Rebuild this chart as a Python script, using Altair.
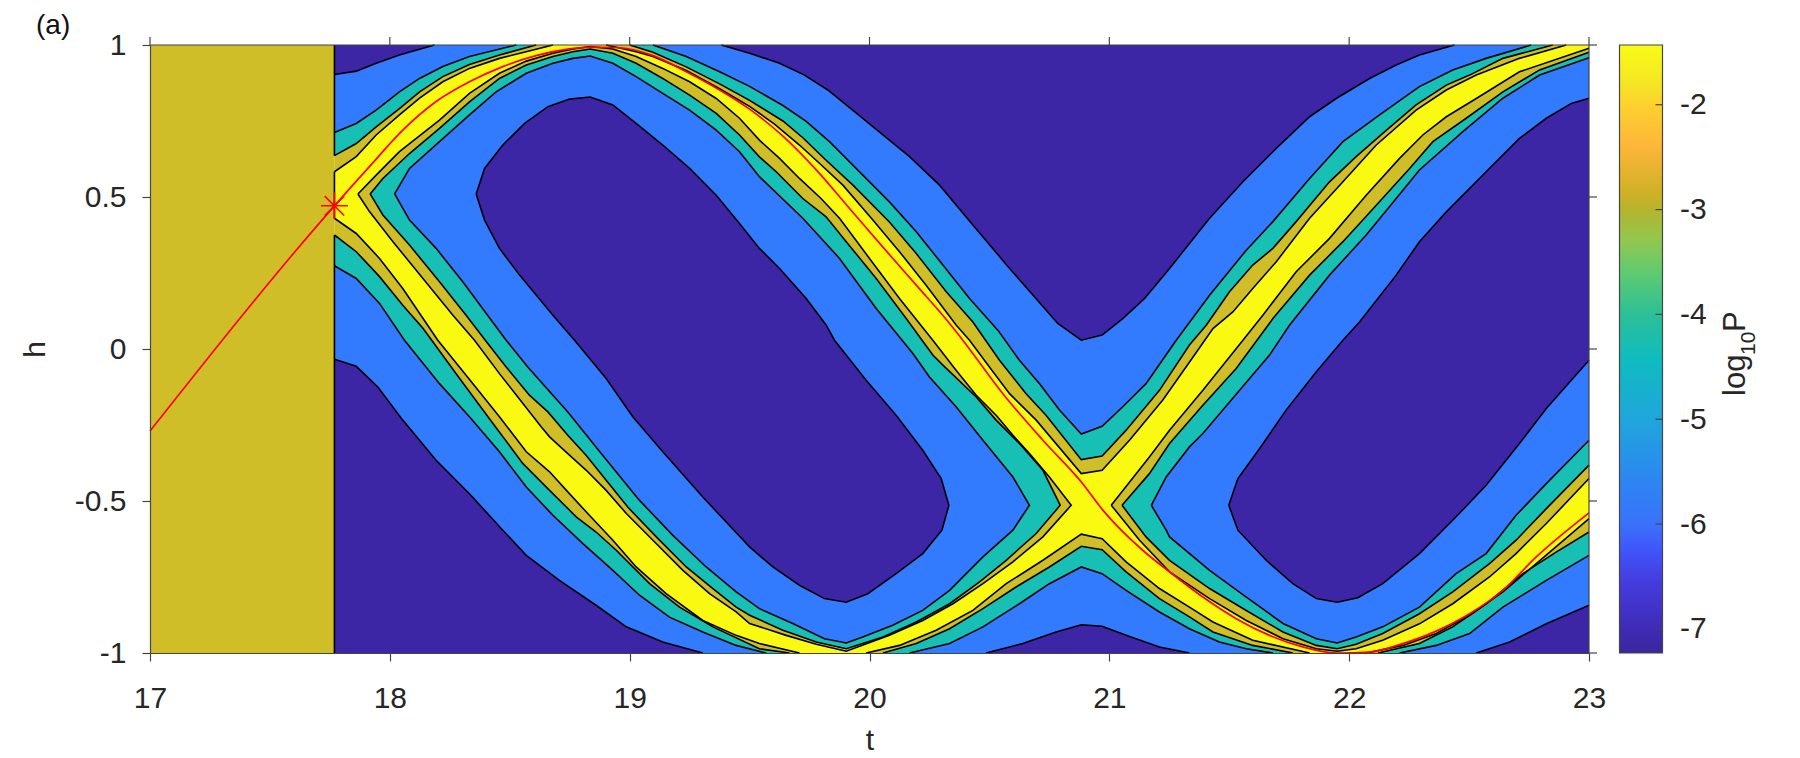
import altair as alt
import pandas as pd

T0, T1, CUT = 17, 23, 17.769

# contour curves: (t, h); level 1 = dark/blue, 2 = blue/teal, 3 = teal/olive, 4 = olive/yellow
a1 = [(17.769,.903),(17.860,.914),(17.943,.940),(18.040,.967),(18.186,1)]
a2 = [(17.769,.712),(17.860,.742),(17.943,.786),(18.040,.846),(18.124,.890),(18.221,.929),(18.332,.962),(18.527,1)]
a3 = [(17.769,.636),(17.860,.676),(17.943,.731),(18.040,.791),(18.124,.846),(18.221,.896),(18.332,.936),(18.457,.967),(18.610,1)]
a4 = [(17.769,.583),(17.860,.633),(17.943,.704),(18.040,.770),(18.124,.825),(18.221,.879),(18.332,.923),(18.457,.956),(18.568,.978),(18.680,1)]

b1 = [(18.360,.510),(18.395,.594),(18.471,.671),(18.562,.742),(18.659,.797),(18.749,.822),(18.835,.829),(18.930,.803),
      (19.027,.742),(19.138,.671),(19.250,.594),(19.361,.506),(19.458,.413),(19.541,.331),(19.625,.265),(19.736,.166),
      (19.819,.079),(19.854,.029),(19.986,-.103),(20.111,-.218),(20.222,-.333),(20.299,-.426),(20.331,-.514),(20.302,-.596),
      (20.222,-.673),(20.111,-.739),(19.993,-.805),(19.903,-.833),(19.812,-.821),(19.708,-.777),(19.597,-.717),(19.500,-.651),
      (19.305,-.487),(19.138,-.338),(19.013,-.223),(18.902,-.097),(18.770,.029),(18.680,.111),(18.541,.243),(18.457,.331),(18.395,.424)]
b2 = [(18.020,.510),(18.082,.594),(18.207,.682),(18.332,.770),(18.443,.846),(18.569,.907),(18.680,.940),(18.763,.956),(18.835,.964),
      (18.930,.940),(19.027,.896),(19.138,.841),(19.250,.786),(19.361,.720),(19.458,.649),(19.541,.567),(19.722,.430),(19.875,.298),
      (20.028,.133),(20.181,-.015),(20.250,-.092),(20.361,-.190),(20.473,-.300),(20.598,-.421),(20.667,-.514),(20.598,-.596),
      (20.473,-.684),(20.334,-.794),(20.222,-.860),(20.097,-.909),(19.972,-.947),(19.903,-.967),(19.812,-.953),(19.680,-.903),
      (19.541,-.854),(19.444,-.799),(19.319,-.717),(19.180,-.613),(19.041,-.498),(18.888,-.350),(18.742,-.207),(18.575,-.059),
      (18.485,.029),(18.402,.117),(18.304,.221),(18.193,.331),(18.082,.424)]
b3 = [(17.918,.510),(17.971,.561),(18.082,.643),(18.207,.726),(18.332,.813),(18.457,.890),(18.569,.934),(18.680,.962),(18.763,.978),
      (18.835,.987),(18.930,.973),(19.027,.940),(19.138,.890),(19.250,.835),(19.361,.775),(19.458,.704),(19.541,.632),(19.611,.583),
      (19.722,.495),(19.819,.435),(19.903,.353),(20.028,.232),(20.153,.100),(20.264,-.020),(20.306,-.053),(20.445,-.158),(20.528,-.234),
      (20.625,-.311),(20.723,-.399),(20.795,-.514),(20.695,-.607),(20.570,-.695),(20.459,-.766),(20.334,-.838),(20.195,-.898),
      (20.056,-.947),(19.903,-.986),(19.778,-.964),(19.639,-.925),(19.500,-.876),(19.444,-.849),(19.347,-.788),(19.236,-.717),
      (19.111,-.618),(18.992,-.520),(18.902,-.432),(18.819,-.350),(18.742,-.284),(18.659,-.207),(18.582,-.152),(18.485,-.059),
      (18.398,.029),(18.318,.111),(18.207,.221),(18.082,.342),(17.971,.441)]
b4 = [(17.867,.510),(17.943,.572),(18.040,.649),(18.207,.753),(18.332,.841),(18.457,.907),(18.569,.947),(18.680,.973),(18.763,.987),
      (18.835,.995),(18.930,.987),(19.027,.962),(19.138,.923),(19.250,.879),(19.361,.824),(19.458,.759),(19.541,.687),(19.625,.627),
      (19.708,.561),(19.798,.495),(19.875,.430),(20.000,.298),(20.125,.166),(20.264,.029),(20.361,-.070),(20.445,-.152),(20.528,-.218),
      (20.598,-.284),(20.667,-.344),(20.750,-.421),(20.841,-.514),(20.723,-.618),(20.598,-.700),(20.473,-.772),(20.348,-.838),
      (20.222,-.893),(20.083,-.942),(19.903,-.994),(19.778,-.971),(19.653,-.942),(19.500,-.903),(19.444,-.865),(19.333,-.805),
      (19.222,-.728),(19.097,-.629),(18.986,-.541),(18.902,-.465),(18.819,-.399),(18.742,-.344),(18.666,-.289),(18.631,-.256),
      (18.555,-.179),(18.457,-.081),(18.353,.029),(18.263,.111),(18.138,.232),(18.013,.353),(17.915,.452)]

c1 = [(19.382,1),(19.500,.973),(19.625,.940),(19.729,.901),(19.826,.852),(19.972,.759),(20.167,.633),(20.292,.539),(20.431,.408),
      (20.584,.265),(20.785,.084),(20.883,.029),(20.970,.046),(21.056,.100),(21.147,.166),(21.251,.265),(21.418,.430),(21.557,.550),
      (21.696,.660),(21.835,.764),(21.946,.824),(22.085,.890),(22.196,.934),(22.293,.967),(22.439,1)]
c2 = [(19.097,1),(19.236,.962),(19.375,.912),(19.500,.864),(19.639,.801),(19.736,.749),(19.833,.682),(19.972,.572),(20.083,.484),
      (20.195,.386),(20.306,.276),(20.417,.166),(20.535,.062),(20.625,-.037),(20.709,-.114),(20.792,-.201),(20.883,-.280),(20.970,-.254),
      (21.056,-.190),(21.153,-.114),(21.279,.029),(21.418,.177),(21.571,.325),(21.682,.419),(21.835,.561),(21.974,.682),(22.127,.770),
      (22.293,.863),(22.432,.918),(22.571,.956),(22.759,1)]
c3 = [(19.000,1),(19.097,.976),(19.236,.928),(19.375,.872),(19.500,.818),(19.639,.750),(19.722,.695),(19.819,.621),(19.931,.539),
      (20.083,.418),(20.195,.314),(20.320,.188),(20.431,.089),(20.542,-.037),(20.653,-.147),(20.736,-.218),(20.883,-.364),(20.970,-.352),
      (21.070,-.267),(21.209,-.136),(21.334,.013),(21.404,.078),(21.501,.188),(21.598,.276),(21.682,.331),(21.779,.419),(21.918,.550),
      (22.029,.633),(22.140,.709),(22.279,.803),(22.405,.868),(22.502,.901),(22.641,.956),(22.849,1)]
c4 = [(18.902,1),(19.027,.978),(19.097,.962),(19.236,.916),(19.375,.856),(19.500,.798),(19.604,.740),(19.708,.671),(19.791,.611),
      (19.889,.539),(20.014,.424),(20.125,.320),(20.236,.210),(20.361,.079),(20.417,.029),(20.500,-.059),(20.584,-.147),(20.695,-.234),
      (20.883,-.410),(20.970,-.399),(21.084,-.300),(21.223,-.168),(21.355,-.020),(21.432,.067),(21.515,.122),(21.598,.199),(21.696,.287),
      (21.835,.430),(21.974,.550),(22.113,.671),(22.279,.786),(22.405,.852),(22.530,.901),(22.710,.956),(22.905,1)]

d1 = [(21.498,-.514),(21.536,-.426),(21.626,-.328),(21.737,-.201),(21.863,-.075),(21.974,.029),(22.043,.089),(22.196,.243),(22.293,.353),
      (22.405,.451),(22.571,.583),(22.710,.693),(22.822,.759),(22.926,.808),(23,.825)]
d1b = [(23,-.037),(22.822,-.196),(22.710,-.311),(22.571,-.448),(22.446,-.552),(22.293,-.673),(22.140,-.772),(22.036,-.818),(21.950,-.833),
       (21.863,-.821),(21.765,-.772),(21.654,-.695),(21.536,-.596),(21.498,-.514)]
d2 = [(21.175,-.514),(21.237,-.421),(21.334,-.322),(21.390,-.278),(21.543,-.136),(21.668,-.020),(21.751,.078),(21.918,.243),(22.071,.375),
      (22.196,.495),(22.293,.589),(22.474,.715),(22.641,.825),(22.794,.901),(23,.958)]
d2b = [(23,-.300),(22.822,-.443),(22.696,-.547),(22.571,-.673),(22.446,-.739),(22.293,-.849),(22.140,-.914),(22.029,-.947),(21.950,-.967),
       (21.863,-.953),(21.724,-.903),(21.571,-.816),(21.418,-.728),(21.251,-.618),(21.237,-.596),(21.175,-.514)]
d3 = [(21.053,-.514),(21.167,-.410),(21.251,-.311),(21.390,-.185),(21.529,-.064),(21.682,.100),(21.835,.243),(21.974,.353),(22.113,.473),
      (22.252,.594),(22.349,.682),(22.488,.759),(22.641,.846),(22.794,.918),(23,.976)]
d3b = [(23,-.382),(22.822,-.525),(22.696,-.629),(22.585,-.706),(22.432,-.799),(22.293,-.871),(22.140,-.936),(22.029,-.971),(21.950,-.986),
       (21.863,-.975),(21.724,-.931),(21.571,-.860),(21.418,-.788),(21.251,-.695),(21.153,-.618),(21.053,-.514)]
d4 = [(21.008,-.514),(21.167,-.355),(21.251,-.267),(21.390,-.136),(21.557,.029),(21.640,.111),(21.779,.254),(21.918,.364),(22.071,.506),
      (22.210,.627),(22.307,.704),(22.405,.764),(22.530,.824),(22.710,.912),(23,.989)]
d4b = [(23,-.426),(22.822,-.574),(22.696,-.673),(22.585,-.750),(22.432,-.838),(22.293,-.904),(22.140,-.958),(22.029,-.986),(21.950,-.994),
       (21.863,-.986),(21.724,-.953),(21.571,-.893),(21.418,-.821),(21.251,-.733),(21.126,-.629),(21.008,-.514)]

e1 = [(17.769,-.034),(17.860,-.057),(17.950,-.125),(18.054,-.234),(18.193,-.366),(18.332,-.476),(18.471,-.596),(18.569,-.679),(18.707,-.761),
      (18.860,-.843),(18.986,-.914),(19.138,-.964),(19.305,-1)]
e2 = [(17.769,.274),(17.860,.232),(17.957,.150),(18.061,.029),(18.207,-.114),(18.332,-.223),(18.457,-.338),(18.569,-.454),(18.680,-.547),
      (18.805,-.640),(18.930,-.728),(19.041,-.810),(19.166,-.882),(19.305,-.931),(19.444,-.975),(19.569,-1)]
e3 = [(17.769,.375),(17.860,.320),(17.957,.238),(18.054,.144),(18.138,.068),(18.291,-.097),(18.430,-.245),(18.555,-.377),(18.666,-.465),
      (18.777,-.552),(18.860,-.602),(18.944,-.662),(19.083,-.772),(19.208,-.849),(19.347,-.914),(19.541,-.986),(19.666,-1)]
e4 = [(17.769,.430),(17.860,.380),(17.957,.298),(18.054,.199),(18.200,.029),(18.318,-.086),(18.457,-.223),(18.569,-.338),(18.666,-.404),
      (18.742,-.470),(18.832,-.547),(18.930,-.629),(19.027,-.717),(19.152,-.805),(19.305,-.893),(19.444,-.942),(19.541,-.969),(19.708,-1)]

f1 = [(20.486,-1),(20.639,-.969),(20.778,-.931),(20.883,-.907),(20.970,-.912),(21.070,-.942),(21.209,-.980),(21.334,-1)]
f2 = [(20.167,-1),(20.334,-.969),(20.473,-.914),(20.625,-.838),(20.750,-.772),(20.883,-.717),(20.970,-.739),(21.070,-.794),(21.209,-.865),
      (21.334,-.920),(21.459,-.964),(21.571,-.986),(21.682,-1)]
f3 = [(20.056,-1),(20.195,-.969),(20.334,-.920),(20.473,-.854),(20.611,-.783),(20.750,-.717),(20.883,-.649),(20.970,-.660),(21.070,-.733),
      (21.209,-.821),(21.334,-.881),(21.432,-.931),(21.598,-.975),(21.765,-1)]
f4 = [(19.986,-1),(20.125,-.975),(20.278,-.925),(20.431,-.860),(20.570,-.772),(20.723,-.695),(20.883,-.609),(20.970,-.624),(21.070,-.700),
      (21.209,-.788),(21.334,-.849),(21.432,-.898),(21.598,-.958),(21.835,-1)]

g1 = [(22.530,-1),(22.669,-.964),(22.822,-.904),(23,-.843)]
g2 = [(22.210,-1),(22.363,-.975),(22.502,-.936),(22.641,-.849),(22.822,-.761),(23,-.679)]
g3 = [(22.120,-1),(22.293,-.969),(22.432,-.914),(22.571,-.838),(22.724,-.739),(22.863,-.668),(23,-.602)]
g4 = [(22.071,-1),(22.224,-.975),(22.363,-.936),(22.502,-.876),(22.641,-.799),(22.780,-.706),(23,-.558)]

trajectory = [(17,-.27),(17.769,.471),(17.915,.600),(18.054,.720),(18.193,.814),(18.332,.879),(18.471,.929),(18.610,.965),(18.749,.987),(18.835,.993),
              (18.958,.991),(19.097,.965),(19.236,.912),(19.375,.852),(19.500,.789),(19.639,.700),(19.778,.589),(19.917,.462),(20.056,.335),
              (20.195,.210),(20.334,.084),(20.389,.029),(20.556,-.147),(20.723,-.300),(20.889,-.443),(20.973,-.530),(21.139,-.662),(21.251,-.733),
              (21.390,-.816),(21.529,-.887),(21.668,-.942),(21.807,-.980),(21.950,-1),(22.085,-.997),(22.224,-.969),(22.363,-.928),(22.502,-.871),
              (22.641,-.794),(22.780,-.684),(23,-.539)]
star = [(17.769,.471)]
edge_segments = [(1,.636),(.583,.430),(.375,-1)]

DARK, BLUE, TEAL, OLIVE, YELLOW = "#3C26A5", "#327BFF", "#18BFB5", "#CFBE27", "#F9F911"
INK, FRAME = "#262626", "#454545"
FONT = "Liberation Sans"

x_ticks = [17, 18, 19, 20, 21, 22, 23]
y_ticks = [-1, -.5, 0, .5, 1]
cb_ticks = [-7, -6, -5, -4, -3, -2]
cb_min, cb_max = -7.23, -1.43
cb_stops = [(-7.23,"#3B279C"),(-7.0,"#3F2BB5"),(-6.55,"#453CE0"),(-6.25,"#4055FA"),(-6.0,"#3A72FA"),(-5.6,"#2E85F2"),(-5.0,"#1FA6DC"),
            (-4.43,"#0FBBC0"),(-4.0,"#2CBF95"),(-3.6,"#5FCB70"),(-3.3,"#90C750"),(-3.0,"#B5B42D"),(-2.83,"#D0B026"),(-2.4,"#FDB63A"),
            (-2.0,"#FCD12E"),(-1.8,"#F5E524"),(-1.43,"#F9FB15")]
cb_label_parts = [("log", 125.5, 351, 31), ("10", 135.5, 310, 21), ("P", 125.5, 287, 31)]

level_parts = {
    4: (OLIVE, [a4+[(CUT,1)], b4, c4, d4+d4b, e4+[(CUT,-1)], f4, g4+[(23,-1)]], [a4, b4+b4[:1], c4, d4, d4b, e4, f4, g4]),
    3: (TEAL,  [a3+[(CUT,1)], b3, c3, d3+d3b, e3+[(CUT,-1)], f3, g3+[(23,-1)]], [a3, b3+b3[:1], c3, d3, d3b, e3, f3, g3]),
    2: (BLUE,  [a2+[(CUT,1)], b2, c2, d2+d2b, e2+[(CUT,-1)], f2, g2+[(23,-1)]], [a2, b2+b2[:1], c2, d2, d2b, e2, f2, g2]),
    1: (DARK,  [a1+[(CUT,1)], b1, c1, d1+d1b, e1+[(CUT,-1)], f1, g1+[(23,-1)]], [a1, b1+b1[:1], c1, d1, d1b, e1, f1, g1]),
}

def frame(curves):
    rows = []
    for n, curve in enumerate(curves):
        for i, (t, h) in enumerate(curve):
            rows.append({"t": t, "h": h, "part": n, "i": i})
    return pd.DataFrame(rows)

X = alt.X("t:Q", scale=alt.Scale(domain=[T0, T1], nice=False, zero=False),
          axis=alt.Axis(values=x_ticks, title="t", grid=False, tickSize=8, tickColor=FRAME, domainColor=FRAME, domainWidth=1.2,
                        tickWidth=1.2, labelFont=FONT, labelFontSize=30, labelColor=INK, labelPadding=22, titleFont=FONT,
                        titleFontSize=30, titleFontWeight="normal", titleColor=INK, titlePadding=12, zindex=1, labelFlush=False,
                        labelExpr="'' + datum.value"))
Y = alt.Y("h:Q", scale=alt.Scale(domain=[-1, 1], nice=False, zero=False),
          axis=alt.Axis(values=y_ticks, title="h", grid=False, tickSize=8, tickColor=FRAME, domainColor=FRAME, domainWidth=1.2,
                        tickWidth=1.2, labelFont=FONT, labelFontSize=30, labelColor=INK, labelPadding=16, titleFont=FONT,
                        titleFontSize=30, titleFontWeight="normal", titleColor=INK, titlePadding=24, zindex=1, labelFlush=False,
                        labelExpr="'' + datum.value"))

base_df = pd.DataFrame({"t": [CUT], "t2": [T1], "h": [-1], "h2": [1]})
base = alt.Chart(base_df).mark_rect(color=YELLOW).encode(x=X, x2="t2:Q", y=Y, y2="h2:Q")
left_df = pd.DataFrame({"t": [T0], "t2": [CUT], "h": [-1], "h2": [1]})
left = alt.Chart(left_df).mark_rect(color=OLIVE).encode(x=alt.X("t:Q"), x2="t2:Q", y=alt.Y("h:Q"), y2="h2:Q")

layers = [base, left]
for level in (4, 3, 2, 1):
    colour, fills, _ = level_parts[level]
    layers.append(alt.Chart(frame(fills)).mark_line(fill=colour, strokeWidth=0, interpolate="linear").encode(
        x="t:Q", y="h:Q", detail="part:N", order="i:Q"))
all_lines = [c for level in (4, 3, 2, 1) for c in level_parts[level][2]]
layers.append(alt.Chart(frame(all_lines)).mark_line(color="black", strokeWidth=1.6).encode(
    x="t:Q", y="h:Q", detail="part:N", order="i:Q"))
seg_df = pd.DataFrame({"t": [CUT] * 3, "h": [s[0] for s in edge_segments], "h2": [s[1] for s in edge_segments]})
layers.append(alt.Chart(seg_df).mark_rule(color="black", strokeWidth=1.6).encode(x="t:Q", y="h:Q", y2="h2:Q"))
traj_df = pd.DataFrame(trajectory, columns=["t", "h"]).assign(i=range(len(trajectory)))
layers.append(alt.Chart(traj_df).mark_line(color="#FF0000", strokeWidth=1.7, interpolate="monotone").encode(x="t:Q", y="h:Q", order="i:Q"))
star_df = pd.DataFrame(star, columns=["t", "h"])
layers.append(alt.Chart(star_df).mark_point(
    shape="M-1,0L1,0M0,-1L0,1M-.72,-.72L.72,.72M-.72,.72L.72,-.72", size=729, color="#FF0000", strokeWidth=1.6, filled=False, opacity=1
).encode(x="t:Q", y="h:Q"))

# box: top and right edges with their ticks
layers.append(alt.Chart(pd.DataFrame({"t": [T0], "t2": [T1], "h": [1]})).mark_rule(color=FRAME, strokeWidth=1.2).encode(x="t:Q", x2="t2:Q", y="h:Q"))
layers.append(alt.Chart(pd.DataFrame({"t": [T1], "h": [-1], "h2": [1]})).mark_rule(color=FRAME, strokeWidth=1.2).encode(x="t:Q", y="h:Q", y2="h2:Q"))
layers.append(alt.Chart(pd.DataFrame({"t": x_ticks})).mark_rule(color=FRAME, strokeWidth=1.2).encode(x="t:Q", y=alt.value(0), y2=alt.value(-8)))
layers.append(alt.Chart(pd.DataFrame({"h": y_ticks})).mark_rule(color=FRAME, strokeWidth=1.2).encode(y="h:Q", x=alt.value(1439), x2=alt.value(1447)))
layers.append(alt.Chart(pd.DataFrame({"label": ["(a)"]})).mark_text(
    font=FONT, fontSize=28, color="#111111", align="left", baseline="middle").encode(
    text="label:N", x=alt.value(-114), y=alt.value(-19)))

main = alt.layer(*layers).properties(width=1439, height=608)

span = cb_max - cb_min
grad = alt.Gradient(gradient="linear", x1=0, y1=1, x2=0, y2=0,
                    stops=[alt.GradientStop(offset=(v - cb_min) / span, color=c) for v, c in cb_stops])
cb_y = alt.Y("v:Q", scale=alt.Scale(domain=[cb_min, cb_max], nice=False, zero=False),
             axis=alt.Axis(values=cb_ticks, orient="right", title=None, grid=False, ticks=False, domain=False,
                           labelFont=FONT, labelFontSize=30, labelColor=INK, labelPadding=17, labelExpr="'' + datum.value"))
bar = alt.Chart(pd.DataFrame({"v": [cb_min], "v2": [cb_max]})).mark_rect(
    color=grad, stroke=FRAME, strokeWidth=1.2).encode(y=cb_y, y2="v2:Q", x=alt.value(0), x2=alt.value(43))
cb_ticks_layer = alt.Chart(pd.DataFrame({"v": cb_ticks})).mark_rule(color=FRAME, strokeWidth=1.2).encode(
    y="v:Q", x=alt.value(36), x2=alt.value(43))
cb_texts = [
    alt.Chart(pd.DataFrame({"label": [txt]})).mark_text(
        font=FONT, fontSize=fs, color=INK, angle=270, align="left", baseline="alphabetic"
    ).encode(text="label:N", x=alt.value(px), y=alt.value(py))
    for txt, px, py, fs in cb_label_parts
]
colorbar = alt.layer(bar, cb_ticks_layer, *cb_texts).properties(width=43, height=608)

chart = alt.hconcat(main, colorbar, spacing=30.5, bounds="flush").properties(
    padding={"left": 12, "top": 4, "right": 0, "bottom": 0}, background="white"
).configure_view(stroke=None).resolve_scale(x="independent", y="independent")

chart.save("out.html", embed_options={"renderer": "svg", "actions": False})
